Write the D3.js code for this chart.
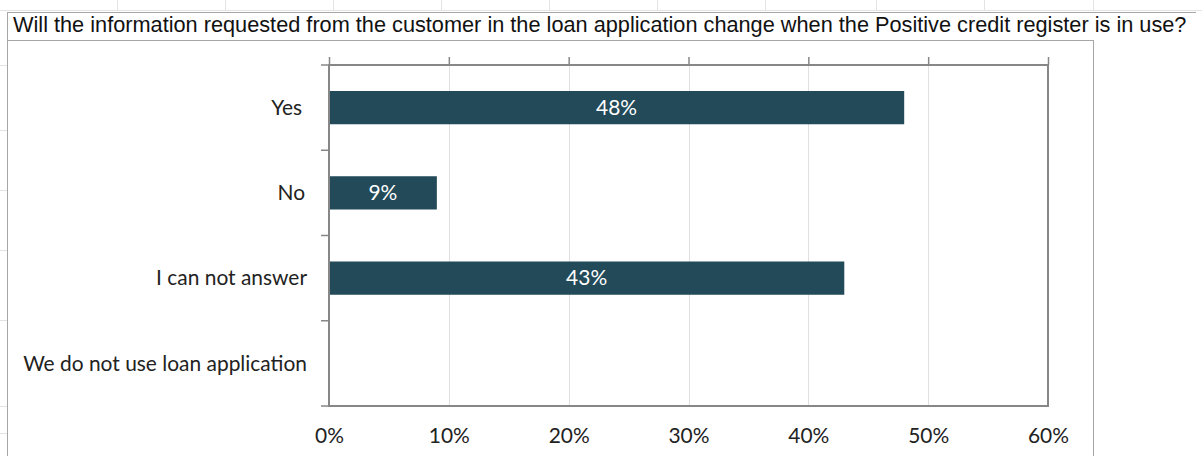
<!DOCTYPE html>
<html>
<head>
<meta charset="utf-8">
<script src="https://cdn.jsdelivr.net/npm/d3@7"></script>
<style>
  html, body { margin: 0; padding: 0; background: #fff; }
  svg { display: block; }
</style>
</head>
<body>
<svg id="chart" width="1202" height="456"></svg>
<script>
// Survey answers and their shares (percent)
const titleText = "Will the information requested from the customer in the loan application change when the Positive credit register is in use?";
const categories = ["Yes", "No", "I can not answer", "We do not use loan application"];
const shares = [48, 9, 43, 0];
const xTicks = [0, 10, 20, 30, 40, 50, 60];

const W = 1202, H = 456;
const svg = d3.select("#chart");

const labelFont = "Lato, 'Open Sans', sans-serif";
const titleFont = "'Liberation Sans', Arial, sans-serif";

// Faint worksheet grid behind the chart object
const sheet = svg.append("g").attr("stroke", "#e3e3e3").attr("stroke-width", 1);
sheet.append("line").attr("x1", 0).attr("x2", W).attr("y1", 10.5).attr("y2", 10.5);
[117, 225, 333, 441, 549, 657, 765, 876, 984, 1093].forEach(x => {
  sheet.append("line").attr("x1", x + 0.5).attr("x2", x + 0.5).attr("y1", 0).attr("y2", 10);
});
[65, 130, 190, 250, 320, 406, 433].forEach(y => {
  sheet.append("line").attr("x1", 0).attr("x2", 7).attr("y1", y + 0.5).attr("y2", y + 0.5);
});

// Title cell and chart frame
const frame = svg.append("g").attr("fill", "none").attr("stroke", "#a6a6a6").attr("stroke-width", 1);
frame.append("line").attr("x1", 7.5).attr("x2", 1196).attr("y1", 12.5).attr("y2", 12.5);
frame.append("line").attr("x1", 7.5).attr("x2", 1093.5).attr("y1", 40.5).attr("y2", 40.5);
frame.append("line").attr("x1", 7.5).attr("x2", 7.5).attr("y1", 12).attr("y2", H);
frame.append("line").attr("x1", 1093.5).attr("x2", 1093.5).attr("y1", 40).attr("y2", H);

const title = svg.append("text")
  .attr("x", 13).attr("y", 32)
  .attr("font-family", titleFont)
  .attr("font-size", 20)
  .attr("fill", "#111")
  .text(titleText);
// fit title to the cell width
{
  const w = title.node().getComputedTextLength();
  title.attr("font-size", 20 * 1174 / w);
}

// Plot area
const plot = { left: 329, right: 1048, top: 65, bottom: 406 };

const x = d3.scaleLinear().domain([0, 60]).range([plot.left, plot.right]);
const y = d3.scaleBand().domain(categories).range([plot.top, plot.bottom]).paddingInner(0.61).paddingOuter(0.305);

// Vertical gridlines
svg.append("g")
  .selectAll("line")
  .data(xTicks.slice(1, -1))
  .join("line")
  .attr("x1", d => Math.round(x(d)) + 0.5)
  .attr("x2", d => Math.round(x(d)) + 0.5)
  .attr("y1", plot.top).attr("y2", plot.bottom)
  .attr("stroke", "#e0e0e0").attr("stroke-width", 1);

// Bars
svg.append("g")
  .selectAll("rect")
  .data(categories.map((c, i) => ({ c, v: shares[i] })).filter(d => d.v > 0))
  .join("rect")
  .attr("x", x(0))
  .attr("y", d => y(d.c))
  .attr("width", d => x(d.v) - x(0))
  .attr("height", y.bandwidth())
  .attr("fill", "#224a59");

// Plot border
svg.append("rect")
  .attr("x", plot.left).attr("y", plot.top)
  .attr("width", plot.right - plot.left).attr("height", plot.bottom - plot.top)
  .attr("fill", "none").attr("stroke", "#878787").attr("stroke-width", 2);

// Top tick marks
const topAxis = d3.axisTop(x).tickValues(xTicks).tickSize(8).tickFormat("");
svg.append("g").attr("transform", `translate(0,${plot.top})`).call(topAxis)
  .call(g => g.select(".domain").remove())
  .call(g => g.selectAll("line").attr("stroke", "#878787").attr("stroke-width", 1.5));

// Bottom labels
const bottomAxis = d3.axisBottom(x).tickValues(xTicks).tickSize(0).tickPadding(22).tickFormat(d => d + "%");
svg.append("g").attr("transform", `translate(0,${plot.bottom})`).call(bottomAxis)
  .call(g => g.select(".domain").remove())
  .call(g => g.selectAll("text").attr("font-family", labelFont).attr("font-size", 17).attr("fill", "#222"));

// Category tick marks at band boundaries
const bounds = d3.range(categories.length + 1).map(i => plot.top + i * y.step());
svg.append("g").selectAll("line").data(bounds).join("line")
  .attr("x1", plot.left - 8).attr("x2", plot.left)
  .attr("y1", d => d).attr("y2", d => d)
  .attr("stroke", "#878787").attr("stroke-width", 1.5);

// Category labels
const cat = svg.append("g").selectAll("text").data(categories).join("text")
  .attr("x", 307)
  .attr("y", d => y(d) + y.bandwidth() / 2)
  .attr("dy", "0.35em")
  .attr("text-anchor", "end")
  .attr("font-family", labelFont)
  .attr("font-size", 17)
  .attr("fill", "#222")
  .text(d => d);
{
  const w = cat.nodes()[3].getComputedTextLength();
  const fs = 17 * 284 / w;
  cat.attr("font-size", fs);
  svg.selectAll("g text").filter(function () { return this.textContent.endsWith("%"); }).attr("font-size", fs);
}
cat.filter(d => d === "Yes").attr("x", 302);
cat.filter(d => d === "No").attr("x", 305);

// Value labels inside bars
svg.append("g").selectAll("text")
  .data(categories.map((c, i) => ({ c, v: shares[i] })).filter(d => d.v > 0))
  .join("text")
  .attr("x", d => (x(0) + x(d.v)) / 2)
  .attr("y", d => y(d.c) + y.bandwidth() / 2)
  .attr("dy", "0.35em")
  .attr("text-anchor", "middle")
  .attr("font-family", labelFont)
  .attr("font-size", cat.attr("font-size"))
  .attr("fill", "#fff")
  .text(d => d.v + "%");
</script>
</body>
</html>
